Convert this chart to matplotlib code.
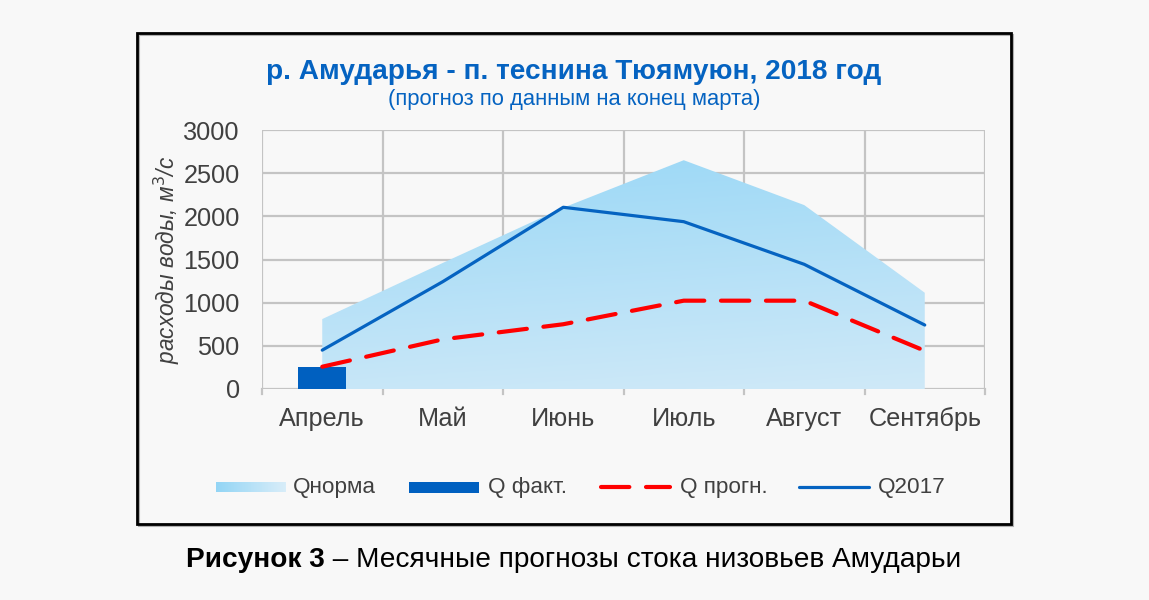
import numpy as np
import matplotlib
matplotlib.use("Agg")
import matplotlib.pyplot as plt
from matplotlib.patches import Rectangle, Polygon
from matplotlib.colors import LinearSegmentedColormap
from matplotlib.lines import Line2D

plt.rcParams['font.family'] = ['Liberation Sans', 'DejaVu Sans']

months = ["Апрель", "Май", "Июнь", "Июль", "Август", "Сентябрь"]
q_norma = [810, 1460, 2100, 2650, 2130, 1115]
q_fakt = [250]
q_progn = [258, 575, 750, 1023, 1023, 443]
q_2017 = [450, 1243, 2105, 1938, 1444, 741]
y_ticks = [0, 500, 1000, 1500, 2000, 2500, 3000]

W, H = 1149, 600
fig = plt.figure(figsize=(W / 100, H / 100), dpi=100)
fig.patch.set_facecolor('#f8f8f8')

def fx(px):
    return px / W

def fy(py):
    return 1 - py / H

# outer frame
fig.add_artist(Rectangle((fx(139), fy(526)), fx(1013) - fx(139), fy(35) - fy(526),
                         transform=fig.transFigure, fill=False, edgecolor='#b0b0b0', lw=1.5))
fig.add_artist(Rectangle((fx(137), fy(524)), fx(1011) - fx(137), fy(33) - fy(524),
                         transform=fig.transFigure, fill=False, edgecolor='black', lw=2))

ax = fig.add_axes([fx(262), fy(389), fx(985) - fx(262), fy(130) - fy(389)])
ax.set_facecolor('#f8f8f8')
x = np.arange(len(months))
ax.set_xlim(-0.5, len(months) - 0.5)
ax.set_ylim(0, 3000)

# grid
grid_c = '#c4c4c4'
for yt in y_ticks:
    ax.axhline(yt, color=grid_c, lw=1.6, zorder=0)
for b in np.arange(-0.5, len(months), 1.0):
    ax.axvline(b, color=grid_c, lw=1.6, zorder=0)

# gradient area (Qnorma)
cmap = LinearSegmentedColormap.from_list('g', ['#cfe9f8', '#9bd8f6'])
poly_xy = list(zip(x, q_norma)) + [(x[-1], 0), (x[0], 0)]
poly = Polygon(poly_xy, closed=True, facecolor='none', edgecolor='none', transform=ax.transData)
ax.add_patch(poly)
gy = np.linspace(0, 1, 256).reshape(-1, 1)
gx = np.linspace(0, 1, 64).reshape(1, -1)
grad = gy * 0.85 + (1 - gx) * 0.15
im = ax.imshow(grad, extent=[x[0], x[-1], 0, max(q_norma)], origin='lower',
               cmap=cmap, aspect='auto', zorder=1, vmin=0, vmax=1)
im.set_clip_path(poly)

# bar
ax.bar(x[:len(q_fakt)], q_fakt, width=0.4, color='#0060c0', zorder=2)

# lines
ax.plot(x, q_2017, color='#0563c1', lw=2.3, zorder=3, solid_capstyle='round')
ax.plot(x, q_progn, color='#ff0000', lw=3.0, zorder=4, dashes=(6.8, 4.0),
        dash_capstyle='round')

for s in ax.spines.values():
    s.set_visible(False)
ax.set_yticks(y_ticks)
ax.set_yticklabels([str(v) for v in y_ticks])
ax.set_xticks(x)
ax.set_xticklabels(months)
ax.tick_params(axis='y', length=0, labelsize=18.2, labelcolor='#404040', pad=16)
ax.tick_params(axis='x', length=0, labelsize=18.2, labelcolor='#404040', pad=13)
# boundary tick marks below baseline
for b in np.arange(-0.5, len(months), 1.0):
    ax.plot([b, b], [0, -60], color=grid_c, lw=1.6, clip_on=False, zorder=0)

ax.set_ylabel('расходы воды, м$^3$/с', fontsize=16.3, style='italic', color='#404040', labelpad=1)

# titles
fig.text(fx(574), fy(72), 'р. Амударья - п. теснина Тюямуюн, 2018 год', ha='center', va='center',
         fontsize=20.2, fontweight='bold', color='#0563c1')
fig.text(fx(574), fy(100), '(прогноз по данным на конец марта)', ha='center', va='center',
         fontsize=15.8, color='#0563c1')

# legend
ly = fy(487)
hh = 11 / H
lax = fig.add_axes([fx(216), ly - hh / 2, fx(286) - fx(216), hh])
lax.imshow(np.linspace(0, 1, 64).reshape(1, -1), cmap=LinearSegmentedColormap.from_list('l', ['#93d5f5', '#d8edf9']),
           aspect='auto', extent=[0, 1, 0, 1])
lax.axis('off')
lfs = 16.2
fig.text(fx(293), ly, 'Qнорма', ha='left', va='center', fontsize=lfs, color='#404040')
fig.add_artist(Rectangle((fx(409), ly - hh / 2), fx(479) - fx(409), hh, transform=fig.transFigure,
                         facecolor='#0060c0', edgecolor='none'))
fig.text(fx(488), ly, 'Q факт.', ha='left', va='center', fontsize=lfs, color='#404040')
fig.add_artist(Line2D([fx(601), fx(670)], [ly, ly], transform=fig.transFigure, color='#ff0000',
                      lw=3.0, dashes=(6.8, 4.0), dash_capstyle='round'))
fig.text(fx(680), ly, 'Q прогн.', ha='left', va='center', fontsize=lfs, color='#404040')
fig.add_artist(Line2D([fx(799), fx(869)], [ly, ly], transform=fig.transFigure, color='#0563c1',
                      lw=2.3, solid_capstyle='round'))
fig.text(fx(878), ly, 'Q2017', ha='left', va='center', fontsize=lfs, color='#404040')

# caption: bold part followed by regular part, centred as a whole
cfs = 20.2
renderer = fig.canvas.get_renderer()
t1 = fig.text(0, fy(560), 'Рисунок 3', ha='left', va='center', fontsize=cfs, fontweight='bold', color='black')
t2 = fig.text(0, fy(560), ' – Месячные прогнозы стока низовьев Амударьи', ha='left', va='center',
              fontsize=cfs, color='black')
w1 = t1.get_window_extent(renderer).width
w2 = t2.get_window_extent(renderer).width
start = 574 - (w1 + w2) / 2
t1.set_x(fx(start))
t2.set_x(fx(start + w1))

fig.savefig('out.png', dpi=100, facecolor=fig.get_facecolor())
